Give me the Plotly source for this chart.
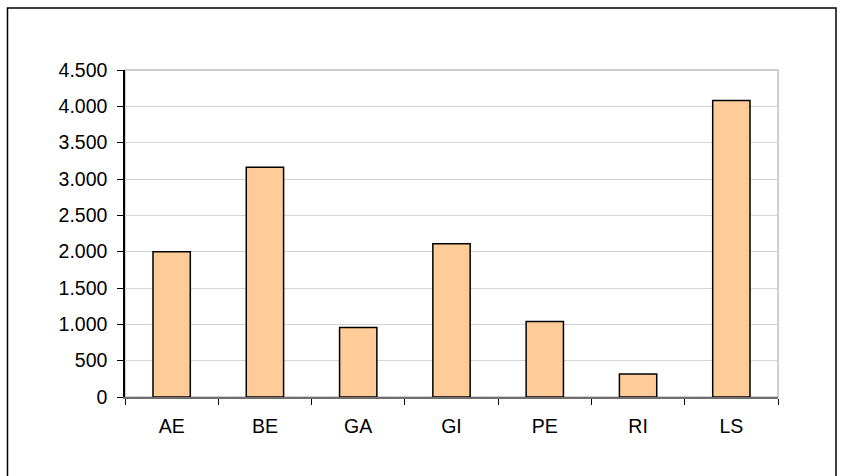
import plotly.graph_objects as go

categories = ["AE", "BE", "GA", "GI", "PE", "RI", "LS"]
values = [2000, 3160, 955, 2110, 1040, 315, 4080]
y_ticks = [0, 500, 1000, 1500, 2000, 2500, 3000, 3500, 4000, 4500]

W, H = 845, 476
L, R, T, B = 125, 67, 70, 79
pw, ph = W - L - R, H - T - B
plot_bottom = T + ph

fig = go.Figure(go.Bar(
    x=categories, y=values,
    marker=dict(color="#FFCC99", line=dict(color="#000000", width=1.5)),
    width=0.4,
))

fig.update_layout(
    width=W, height=H,
    margin=dict(l=L, r=R, t=T, b=B, pad=0),
    paper_bgcolor="white", plot_bgcolor="white",
    separators=",.",
    showlegend=False,
    font=dict(family="Liberation Sans, Arial, sans-serif", size=19.5, color="#000000"),
    shapes=[
        dict(type="rect", xref="paper", yref="paper", x0=0, x1=1, y0=0, y1=1,
             line=dict(color="#c0c0c0", width=1.5), layer="below"),
        dict(type="rect", xref="paper", yref="paper",
             x0=(7.5 - L) / pw, x1=(836 - L) / pw,
             y0=(plot_bottom - 480) / ph, y1=(plot_bottom - 8) / ph,
             line=dict(color="#000000", width=1.5), layer="below"),
    ],
)

fig.update_xaxes(
    showline=True, linecolor="#707070", linewidth=1.5,
    ticks="outside", tickson="boundaries", ticklen=6, tickcolor="#000000",
    showgrid=False, ticklabelstandoff=11,
)
fig.update_yaxes(
    range=[0, 4500], tickvals=y_ticks, tickformat=",d",
    showline=True, linecolor="#000000", linewidth=1.5,
    ticks="outside", ticklen=6, tickcolor="#000000",
    showgrid=True, gridcolor="#d4d4d4", gridwidth=1.2,
    zeroline=False, ticklabelstandoff=6,
)

fig.write_html(
    "out.html",
    config={"displayModeBar": False},
    post_script="document.body.style.margin='0px';document.body.style.overflow='hidden';",
)
